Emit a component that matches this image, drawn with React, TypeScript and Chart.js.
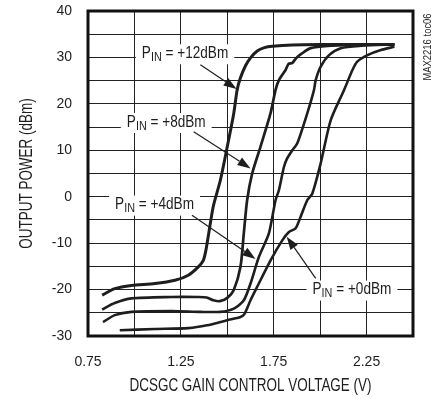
import React, { useEffect, useRef } from 'react';
import { Chart, registerables } from 'chart.js';

Chart.register(...registerables);

const REG = "'Liberation Sans', Arial, sans-serif";
const INK = '#1e1e1e';

// Axis ticks
const xTickValues = [0.75, 1.25, 1.75, 2.25];
const xTickLabels = ['0.75', '1.25', '1.75', '2.25'];
const yTickValues = [-30, -20, -10, 0, 10, 20, 30, 40];
const yTickLabels = ['-30', '-20', '-10', '0', '10', '20', '30', '40'];
const xTitle = 'DCSGC GAIN CONTROL VOLTAGE (V)';
const yTitle = 'OUTPUT POWER (dBm)';
const noteText = 'MAX2216 toc06';

// Series: PIN = +12dBm
const v12 = [0.826, 0.894, 0.984, 1.11, 1.218, 1.29, 1.344, 1.371, 1.385, 1.40, 1.425, 1.463, 1.50, 1.535, 1.553, 1.571, 1.598, 1.625, 1.661, 1.70, 1.742, 1.85, 2.0, 2.2, 2.4];
const p12 = [-21.2, -19.8, -19.1, -18.7, -18.0, -16.9, -15.1, -13.7, -11.5, -7.9, -2.0, 3.6, 10.8, 18.0, 23.0, 25.6, 28.2, 29.9, 31.4, 32.1, 32.4, 32.7, 32.8, 32.8, 32.8];
// PIN = +8dBm
const v8 = [0.826, 0.894, 0.984, 1.2, 1.344, 1.389, 1.425, 1.46, 1.50, 1.535, 1.571, 1.589, 1.607, 1.634, 1.679, 1.733, 1.76, 1.778, 1.814, 1.83, 1.85, 1.87, 1.90, 1.949, 2.04, 2.2, 2.4];
const p8 = [-24.3, -22.9, -21.9, -21.6, -21.6, -21.7, -22.3, -22.5, -21.8, -20.1, -15.1, -7.9, -0.7, 5.0, 10.8, 18.0, 23.0, 25.1, 27.3, 28.6, 28.8, 29.8, 30.8, 32.0, 32.5, 32.7, 32.8];
// PIN = +4dBm
const v4 = [0.831, 0.894, 0.984, 1.2, 1.355, 1.463, 1.535, 1.589, 1.625, 1.67, 1.724, 1.76, 1.778, 1.805, 1.823, 1.85, 1.877, 1.931, 1.967, 1.976, 2.003, 2.048, 2.111, 2.22, 2.4];
const p4 = [-27.0, -25.5, -24.8, -24.6, -24.8, -24.8, -24.1, -22.3, -18.7, -13.0, -7.9, -0.7, 1.4, 6.4, 8.3, 10.0, 11.5, 18.0, 23.0, 25.1, 28.0, 30.5, 32.0, 32.5, 32.8];
// PIN = +0dBm
const v0 = [0.921, 1.11, 1.29, 1.391, 1.499, 1.571, 1.592, 1.625, 1.661, 1.733, 1.796, 1.832, 1.868, 1.895, 1.931, 1.958, 2.003, 2.057, 2.129, 2.174, 2.2, 2.255, 2.327, 2.4];
const p0 = [-28.75, -28.5, -28.3, -27.7, -26.6, -25.9, -25.3, -22.3, -19.4, -13.7, -9.4, -7.6, -6.8, -4.3, -0.7, 0.7, 7.2, 16.5, 23.0, 27.3, 29.1, 30.5, 31.6, 32.3];

// Annotations (data coordinates)
const annText = [' = +12dBm', ' = +8dBm', ' = +4dBm', ' = +0dBm'];
const annLeftV = [1.04, 0.959, 0.896, 1.959];
const annMidP = [30.9, 16.1, -1.7, -20.0];
const arrowFromV = [1.355, 1.319, 1.31, 1.976];
const arrowFromP = [28.4, 14.0, -4.0, -17.6];
const arrowToV = [1.55, 1.625, 1.652, 1.82];
const arrowToP = [23.2, 6.1, -13.4, -8.6];

const toPts = (vs: number[], ps: number[]) => vs.map((v, i) => ({ x: v, y: ps[i] }));

const MAIN_PX = 17;
const SUB_PX = 13.5;
const SQUEEZE = 0.8;

function labelWidth(ctx: CanvasRenderingContext2D, rest: string) {
  ctx.font = `${MAIN_PX}px ${REG}`;
  let w = ctx.measureText('P').width + ctx.measureText(rest).width;
  ctx.font = `${SUB_PX}px ${REG}`;
  w += ctx.measureText('IN').width;
  return w * SQUEEZE;
}

const annotationPlugin = {
  id: 'pinAnnotations',
  beforeDatasetsDraw(chart: any) {
    const { ctx, scales } = chart;
    const xs = scales.x, ys = scales.y;
    ctx.save();
    for (let i = 0; i < annText.length; i++) {
      const lx = xs.getPixelForValue(annLeftV[i]);
      const ly = ys.getPixelForValue(annMidP[i]);
      const w = labelWidth(ctx, annText[i]);
      ctx.fillStyle = '#ffffff';
      ctx.fillRect(lx - 6, ly - 9, w + 12, 20);
      ctx.save();
      ctx.translate(lx, ly);
      ctx.scale(SQUEEZE, 1);
      ctx.fillStyle = INK;
      ctx.textBaseline = 'middle';
      ctx.textAlign = 'left';
      ctx.font = `${MAIN_PX}px ${REG}`;
      ctx.fillText('P', 0, 0);
      let cx = ctx.measureText('P').width;
      ctx.font = `${SUB_PX}px ${REG}`;
      ctx.fillText('IN', cx, 4);
      cx += ctx.measureText('IN').width;
      ctx.font = `${MAIN_PX}px ${REG}`;
      ctx.fillText(annText[i], cx, 0);
      ctx.restore();
    }
    ctx.restore();
  },
  afterDatasetsDraw(chart: any) {
    const { ctx, scales, chartArea } = chart;
    const xs = scales.x, ys = scales.y;
    ctx.save();
    for (let i = 0; i < arrowFromV.length; i++) {
      const x1 = xs.getPixelForValue(arrowFromV[i]);
      const y1 = ys.getPixelForValue(arrowFromP[i]);
      const x2 = xs.getPixelForValue(arrowToV[i]);
      const y2 = ys.getPixelForValue(arrowToP[i]);
      const ang = Math.atan2(y2 - y1, x2 - x1);
      const hl = 13, hw = 4.5;
      const bx = x2 - hl * Math.cos(ang), by = y2 - hl * Math.sin(ang);
      ctx.strokeStyle = INK;
      ctx.lineWidth = 1.2;
      ctx.beginPath();
      ctx.moveTo(x1, y1);
      ctx.lineTo(bx, by);
      ctx.stroke();
      ctx.fillStyle = INK;
      ctx.beginPath();
      ctx.moveTo(x2, y2);
      ctx.lineTo(bx + hw * Math.sin(ang), by - hw * Math.cos(ang));
      ctx.lineTo(bx - hw * Math.sin(ang), by + hw * Math.cos(ang));
      ctx.closePath();
      ctx.fill();
    }
    ctx.strokeStyle = '#111';
    ctx.lineWidth = 3;
    ctx.strokeRect(chartArea.left, chartArea.top, chartArea.right - chartArea.left, chartArea.bottom - chartArea.top);
    ctx.restore();
  },
  afterDraw(chart: any) {
    const { ctx, chartArea } = chart;
    ctx.save();
    ctx.fillStyle = INK;
    ctx.textAlign = 'center';
    ctx.textBaseline = 'middle';
    // x title
    ctx.save();
    ctx.translate((chartArea.left + chartArea.right) / 2, 386);
    ctx.scale(0.77, 1);
    ctx.font = `17.5px ${REG}`;
    ctx.fillText(xTitle, 0, 0);
    ctx.restore();
    // y title
    ctx.save();
    ctx.translate(27, (chartArea.top + chartArea.bottom) / 2);
    ctx.rotate(-Math.PI / 2);
    ctx.scale(0.77, 1);
    ctx.font = `17.5px ${REG}`;
    ctx.fillText(yTitle, 0, 0);
    ctx.restore();
    // side note
    ctx.save();
    ctx.translate(428, 47);
    ctx.rotate(-Math.PI / 2);
    ctx.scale(0.9, 1);
    ctx.font = `10.5px ${REG}`;
    ctx.fillText(noteText, 0, 0);
    ctx.restore();
    ctx.restore();
  },
};

export default function App() {
  const ref = useRef<HTMLCanvasElement | null>(null);
  useEffect(() => {
    if (!ref.current) return;
    const line = (vs: number[], ps: number[], w: number) => ({
      data: toPts(vs, ps),
      borderColor: INK,
      borderWidth: w,
      pointRadius: 0,
      fill: false,
      tension: 0.25,
      showLine: true,
    });
    const chart = new Chart(ref.current, {
      type: 'scatter',
      data: {
        datasets: [line(v12, p12, 3), line(v8, p8, 2.7), line(v4, p4, 2.6), line(v0, p0, 2.6)],
      },
      options: {
        animation: false,
        responsive: false,
        maintainAspectRatio: false,
        layout: { padding: { left: 0, right: 24, top: 11, bottom: 0 } },
        plugins: { legend: { display: false }, tooltip: { enabled: false } },
        scales: {
          x: {
            type: 'linear',
            min: 0.75,
            max: 2.5,
            afterFit: (s: any) => { s.height = 63; s.paddingLeft = 0; s.paddingRight = 0; },
            afterBuildTicks: (s: any) => {
              const t = [];
              for (let k = 0; k <= 7; k++) t.push({ value: 0.75 + k * 0.25 });
              s.ticks = t;
            },
            ticks: {
              autoSkip: false,
              maxRotation: 0,
              padding: 18,
              color: INK,
              font: { family: REG, size: 14 },
              callback: (v: any) => {
                const i = xTickValues.findIndex((t) => Math.abs(t - Number(v)) < 1e-6);
                return i >= 0 ? xTickLabels[i] : '';
              },
            },
            grid: { color: '#222', lineWidth: 1, drawTicks: false },
            border: { display: false },
            title: { display: false },
          },
          y: {
            type: 'linear',
            min: -30,
            max: 40,
            afterFit: (s: any) => { s.width = 88; s.paddingTop = 0; s.paddingBottom = 0; },
            afterBuildTicks: (s: any) => {
              const t = [];
              for (let k = 0; k <= 14; k++) t.push({ value: -30 + k * 5 });
              s.ticks = t;
            },
            ticks: {
              autoSkip: false,
              padding: 16,
              color: INK,
              font: { family: REG, size: 14 },
              callback: (v: any) => {
                const i = yTickValues.findIndex((t) => Math.abs(t - Number(v)) < 1e-6);
                return i >= 0 ? yTickLabels[i] : '';
              },
            },
            grid: { color: '#222', lineWidth: 1, drawTicks: false },
            border: { display: false },
            title: { display: false },
          },
        },
      },
      plugins: [annotationPlugin],
    });
    return () => chart.destroy();
  }, []);
  return (
    <div style={{ position: 'absolute', left: 0, top: 0, width: 437, height: 399, background: '#fff' }}>
      <canvas ref={ref} width={437} height={399} style={{ display: 'block' }} />
    </div>
  );
}
